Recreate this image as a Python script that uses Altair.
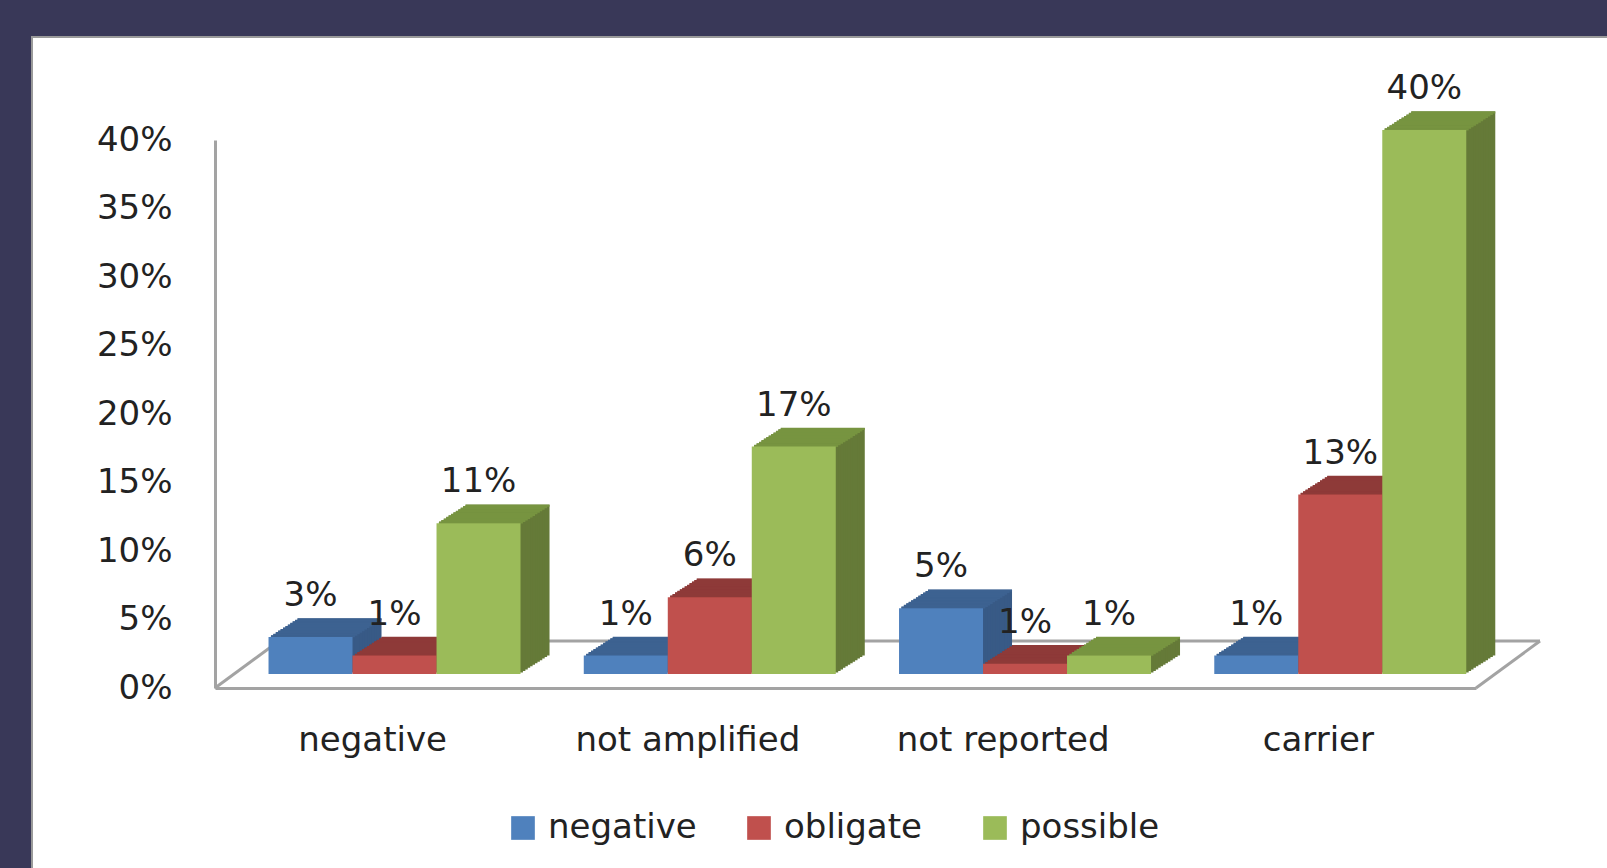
import altair as alt
import pandas as pd

# ---------------- data ----------------
categories = ["negative", "not amplified", "not reported", "carrier"]
series_names = ["negative", "obligate", "possible"]
negative_vals = [0.027, 0.0135, 0.048, 0.0135]
obligate_vals = [0.0135, 0.056, 0.0075, 0.131]
possible_vals = [0.11, 0.166, 0.0135, 0.397]
y_ticks = [0, 0.05, 0.10, 0.15, 0.20, 0.25, 0.30, 0.35, 0.40]

front_colors = ["#4F81BD", "#C0504D", "#9BBB59"]
top_colors = ["#3D6291", "#8E3A38", "#779440"]
side_colors = ["#385A86", "#86332F", "#657A38"]

rows = []
for s, vals in zip(series_names, [negative_vals, obligate_vals, possible_vals]):
    for c, v in zip(categories, vals):
        rows.append({"category": c, "series": s, "value": v})
df = pd.DataFrame(rows)

# ---------------- layout / style ----------------
W, H = 1261, 548
FONT = "DejaVu Sans"
FS = 34
TXT = "#222222"
GRAY = "#a3a3a3"
GROUP_W = 252
BAR_W = GROUP_W / 3
SHIFT_X, SHIFT_Y = 22, -14
DEPTH_X, DEPTH_Y = 29, 18.5
N = 12

x_enc = alt.X(
    "category:N",
    scale=alt.Scale(domain=categories, paddingInner=0.2, paddingOuter=0.1),
    axis=alt.Axis(title=None, labelFont=FONT, labelFontSize=FS, labelColor=TXT,
                  labelPadding=35, ticks=False, domainColor=GRAY, domainWidth=3,
                  labelAngle=0, labelLimit=0, zindex=1),
)
y_enc = alt.Y(
    "value:Q",
    scale=alt.Scale(domain=[0, 0.4]),
    axis=alt.Axis(title=None, values=y_ticks, format=".0%", labelFont=FONT,
                  labelFontSize=FS, labelColor=TXT, labelPadding=43, ticks=False,
                  grid=False, domainColor=GRAY, domainWidth=3, zindex=1),
)


def xoff(shift):
    return alt.XOffset(
        "series:N",
        scale=alt.Scale(type="band", domain=series_names,
                        range=[shift, shift + GROUP_W],
                        paddingInner=0, paddingOuter=0),
    )


one = pd.DataFrame({"a": [0]})
panel = alt.Chart(one).mark_rect(fill="white", stroke="#9a9a9a", strokeWidth=2).encode(
    x=alt.value(-183), x2=alt.value(1500), y=alt.value(-103), y2=alt.value(800)
)
floor_back = alt.Chart(one).mark_rule(color=GRAY, strokeWidth=3).encode(
    x=alt.value(64), x2=alt.value(W + 64), y=alt.value(H - 47)
)
floor_left = alt.Chart(one).mark_rule(color=GRAY, strokeWidth=3).encode(
    x=alt.value(0), x2=alt.value(64), y=alt.value(H), y2=alt.value(H - 47)
)
floor_right = alt.Chart(one).mark_rule(color=GRAY, strokeWidth=3).encode(
    x=alt.value(W), x2=alt.value(W + 64), y=alt.value(H), y2=alt.value(H - 47)
)

layers = [panel, floor_back, floor_left, floor_right]

step_y = DEPTH_Y / N
for i, s in enumerate(series_names):
    sub = alt.Chart(df).transform_filter(alt.datum.series == s)
    # side (extrusion) in side colour
    for k in range(N, 0, -1):
        dx = SHIFT_X + DEPTH_X * k / N
        dy = SHIFT_Y - DEPTH_Y * k / N
        layers.append(
            sub.mark_bar(color=side_colors[i], yOffset=dy).encode(
                x=x_enc, xOffset=xoff(dx), y=y_enc
            )
        )
    # top face staircase
    for k in range(N, 0, -1):
        dx = SHIFT_X + DEPTH_X * k / N
        dy = SHIFT_Y - DEPTH_Y * k / N + step_y / 2
        layers.append(
            sub.mark_tick(color=top_colors[i], yOffset=dy, size=BAR_W,
                          thickness=step_y + 0.6, orient="horizontal", opacity=1).encode(
                x=x_enc, xOffset=xoff(dx), y=y_enc
            )
        )
    layers.append(
        sub.mark_bar(yOffset=SHIFT_Y).encode(
            x=x_enc,
            xOffset=xoff(SHIFT_X),
            y=y_enc,
            color=alt.Color(
                "series:N",
                scale=alt.Scale(domain=series_names, range=front_colors),
                legend=alt.Legend(
                    title=None, orient="none", legendX=291, legendY=671,
                    direction="horizontal", columns=3, gridAlign="all",
                    columnPadding=45, symbolType="square", symbolSize=560,
                    symbolStrokeWidth=0, labelFont=FONT, labelFontSize=FS,
                    labelColor=TXT, labelOffset=8, zindex=1,
                ),
            ),
        )
    )

labels = alt.Chart(df).mark_text(
    font=FONT, fontSize=FS, color=TXT, baseline="middle", align="center",
    yOffset=SHIFT_Y - 41,
).encode(
    x=x_enc, xOffset=xoff(SHIFT_X), y=y_enc,
    text=alt.Text("value:Q", format=".0%"),
)
layers.append(labels)

chart = (
    alt.layer(*layers)
    .resolve_scale(xOffset="independent")
    .properties(
        width=W, height=H,
        padding={"left": 215, "top": 140, "right": 131, "bottom": 180},
        autosize=alt.AutoSizeParams(type="none"),
        background="#393858",
    )
    .configure_view(stroke=None)
)

chart.save("out.html", embed_options={"renderer": "svg", "actions": False})
